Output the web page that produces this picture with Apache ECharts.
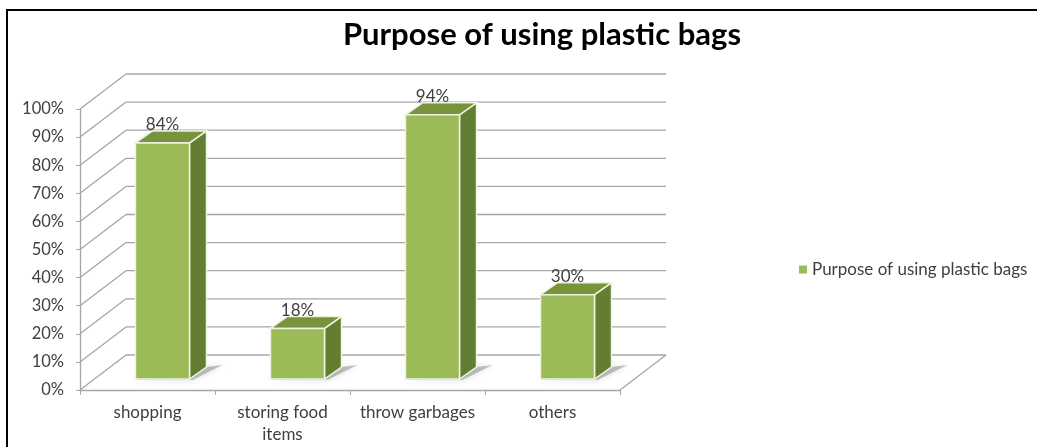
<!DOCTYPE html>
<html>
<head>
<meta charset="utf-8">
<script src="https://cdn.jsdelivr.net/npm/echarts@6/dist/echarts.min.js"></script>
<style>
  html, body { margin: 0; padding: 0; background: #fff; }
  #chart { width: 1037px; height: 447px; }
</style>
</head>
<body>
<div id="chart"></div>
<script>
// Survey answers: share of respondents per purpose
const categories = ['shopping', 'storing food\nitems', 'throw garbages', 'others'];
const shares = [0.84, 0.18, 0.94, 0.30];
const yTicks = [0, 0.1, 0.2, 0.3, 0.4, 0.5, 0.6, 0.7, 0.8, 0.9, 1.0];
const seriesName = 'Purpose of using plastic bags';

const FONT = 'Lato, "Open Sans", sans-serif';
const GRID_COLOR = '#A6A6A6';
const TEXT_COLOR = '#404040';

// Perspective offsets (pixels) for the floor/back wall and for the bar bodies
const WALL_DX = 46, WALL_DY = -35;
const BAR_OX = 15, BAR_OY = -11;
const BAR_DX = 17, BAR_DY = -12;

const chart = echarts.init(document.getElementById('chart'));

function renderWalls(params, api) {
  const cs = params.coordSys;
  const left = cs.x, right = cs.x + cs.width;
  const y = api.coord([0, api.value(0)])[1];
  const line = (x1, y1, x2, y2) => ({
    type: 'line',
    shape: { x1, y1, x2, y2 },
    style: { stroke: GRID_COLOR, lineWidth: 1.3 }
  });
  const children = [
    line(left, y, left + WALL_DX, y + WALL_DY),
    line(left + WALL_DX, y + WALL_DY, right + WALL_DX, y + WALL_DY)
  ];
  if (api.value(0) === 0) {
    children.push(line(right, y, right + WALL_DX, y + WALL_DY));
  }
  return { type: 'group', children };
}

function renderBar(params, api) {
  const base = api.coord([api.value(0), 0]);
  const top = api.coord([api.value(0), api.value(1)]);
  const bw = api.size([1, 0])[0] * 0.4;
  const x0 = base[0] + BAR_OX - bw / 2;
  const x1 = x0 + bw;
  const yb = base[1] + BAR_OY;
  const yt = top[1] + BAR_OY;
  const edge = { stroke: '#EEF3E2', lineWidth: 1.5 };
  return {
    type: 'group',
    children: [
      {
        type: 'polygon',
        shape: { points: [[x0 - 2, yb + 1], [x1 + 3, yb + 1], [x1 + BAR_DX + 16, yb + BAR_DY - 2], [x1 + BAR_DX, yb + BAR_DY]] },
        style: { fill: 'rgba(90,90,90,0.35)', shadowBlur: 6, shadowColor: 'rgba(90,90,90,0.6)' }
      },
      {
        type: 'polygon',
        shape: { points: [[x1, yt], [x1 + BAR_DX, yt + BAR_DY], [x1 + BAR_DX, yb + BAR_DY], [x1, yb]] },
        style: Object.assign({ fill: '#637D31' }, edge)
      },
      {
        type: 'polygon',
        shape: { points: [[x0, yt], [x0 + BAR_DX, yt + BAR_DY], [x1 + BAR_DX, yt + BAR_DY], [x1, yt]] },
        style: Object.assign({ fill: '#77933C' }, edge)
      },
      {
        type: 'rect',
        shape: { x: x0, y: yt, width: bw, height: yb - yt },
        style: Object.assign({ fill: '#9BBB59' }, edge)
      },
      {
        type: 'text',
        style: {
          text: Math.round(api.value(1) * 100) + '%',
          x: x0 + bw / 2,
          y: yt - 18,
          align: 'center',
          verticalAlign: 'middle',
          font: '17px ' + FONT,
          fill: TEXT_COLOR
        }
      }
    ]
  };
}

chart.setOption({
  animation: false,
  backgroundColor: '#ffffff',
  title: {
    text: seriesName,
    left: 537,
    top: 14,
    textAlign: 'center',
    textStyle: { fontFamily: FONT, fontWeight: 'bold', fontSize: 31, color: '#000000' }
  },
  legend: {
    data: [seriesName],
    left: 794,
    top: 256,
    icon: 'rect',
    itemWidth: 8,
    itemHeight: 8,
    itemGap: 6,
    textStyle: { fontFamily: FONT, fontSize: 17, color: TEXT_COLOR }
  },
  graphic: [
    { type: 'line', shape: { x1: 6, y1: 10, x2: 1037, y2: 10 }, style: { stroke: '#000', lineWidth: 2 } },
    { type: 'line', shape: { x1: 7, y1: 9, x2: 7, y2: 447 }, style: { stroke: '#000', lineWidth: 2 } }
  ],
  grid: { left: 80, right: 417, top: 109, bottom: 57, containLabel: false },
  xAxis: {
    type: 'category',
    data: categories,
    boundaryGap: true,
    axisLine: { show: true, lineStyle: { color: GRID_COLOR, width: 1.3 } },
    axisTick: { show: true, length: 5, lineStyle: { color: GRID_COLOR } },
    axisLabel: {
      interval: 0,
      margin: 12,
      fontFamily: FONT,
      fontSize: 17,
      lineHeight: 22,
      color: TEXT_COLOR
    },
    splitLine: { show: false }
  },
  yAxis: {
    type: 'value',
    min: 0,
    max: 1,
    interval: 0.1,
    axisLine: { show: true, lineStyle: { color: GRID_COLOR, width: 1.3 } },
    axisTick: { show: true, length: 4, lineStyle: { color: GRID_COLOR } },
    axisLabel: {
      margin: 16,
      fontFamily: FONT,
      fontSize: 16.5,
      color: TEXT_COLOR,
      formatter: v => Math.round(v * 100) + '%'
    },
    splitLine: { show: false }
  },
  series: [
    {
      type: 'custom',
      name: 'walls',
      silent: true,
      z: 1,
      renderItem: renderWalls,
      encode: { y: 0 },
      data: yTicks.map(v => [v])
    },
    {
      type: 'custom',
      name: seriesName,
      z: 3,
      itemStyle: { color: '#9BBB59' },
      renderItem: renderBar,
      encode: { x: 0, y: 1 },
      data: shares.map((v, i) => [i, v])
    }
  ]
});
</script>
</body>
</html>
